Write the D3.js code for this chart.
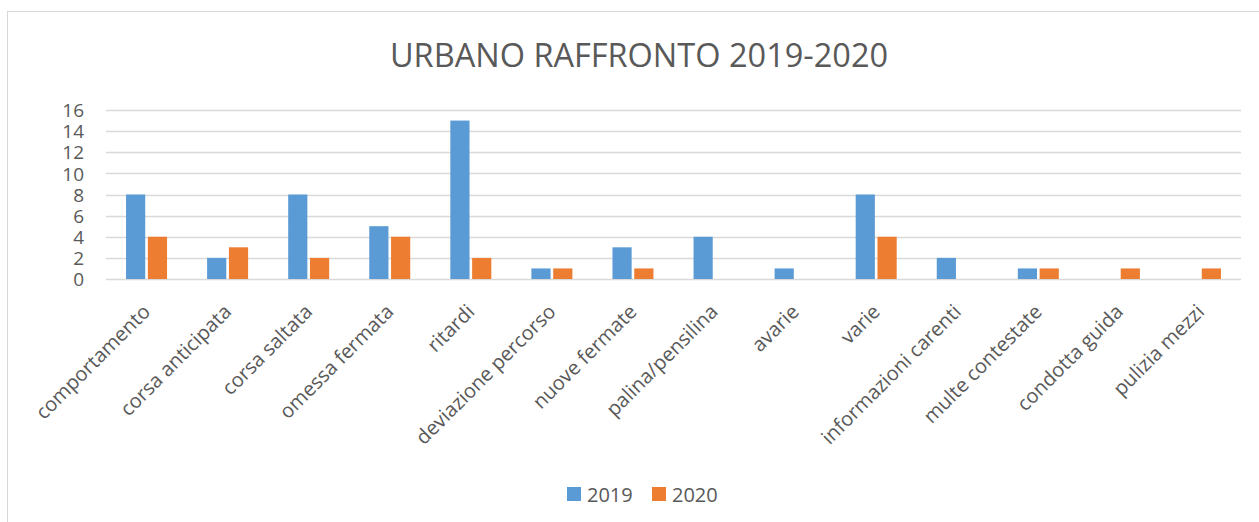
<!DOCTYPE html>
<html>
<head>
<meta charset="utf-8">
<style>
  body { margin: 0; background: #fff; }
  svg { font-family: "Open Sans", sans-serif; }
  .axis .domain, .axis .tick line { display: none; }
</style>
</head>
<body>
<svg width="1259" height="522"></svg>
<script src="https://d3js.org/d3.v7.min.js"></script>
<script>
var categories = ["comportamento", "corsa anticipata", "corsa saltata", "omessa fermata", "ritardi",
  "deviazione percorso", "nuove fermate", "palina/pensilina", "avarie", "varie",
  "informazioni carenti", "multe contestate", "condotta guida", "pulizia mezzi"];
var values2019 = [8, 2, 8, 5, 15, 1, 3, 4, 1, 8, 2, 1, 0, 0];
var values2020 = [4, 3, 2, 4, 2, 1, 1, 0, 0, 4, 0, 1, 1, 1];
var seriesNames = ["2019", "2020"];
var yTicks = [0, 2, 4, 6, 8, 10, 12, 14, 16];
var colors = ["#5B9BD5", "#ED7D31"];

var svg = d3.select("svg");

// chart frame (runs off the right and bottom of the picture)
svg.append("rect")
  .attr("x", 7.5).attr("y", 11.5)
  .attr("width", 1270).attr("height", 530)
  .attr("fill", "none").attr("stroke", "#d9d9d9");

svg.append("text")
  .attr("x", 639).attr("y", 67)
  .attr("text-anchor", "middle")
  .attr("fill", "#595959")
  .attr("font-size", "32.5px")
  .text("URBANO RAFFRONTO 2019-2020");

var margin = {left: 106, top: 110, right: 1241, bottom: 279};

var x0 = d3.scaleBand().domain(categories).range([margin.left, margin.right]);
var x1 = d3.scaleBand().domain(seriesNames).range([x0.bandwidth() / 2 - 20.5, x0.bandwidth() / 2 + 20.5]).paddingInner(0.12);
var y = d3.scaleLinear().domain([0, 16]).range([margin.bottom, margin.top]);

// gridlines
svg.append("g").selectAll("line")
  .data(yTicks)
  .enter().append("line")
  .attr("x1", margin.left).attr("x2", margin.right)
  .attr("y1", function(d) { return Math.round(y(d)) + 0.5; })
  .attr("y2", function(d) { return Math.round(y(d)) + 0.5; })
  .attr("stroke", "#d9d9d9").attr("stroke-width", 1.5);

svg.append("g")
  .attr("class", "axis")
  .attr("transform", "translate(88,0)")
  .call(d3.axisLeft(y).tickValues(yTicks).tickSize(0).tickPadding(4))
  .attr("font-family", "Open Sans").attr("font-size", 19)
  .selectAll("text").attr("fill", "#595959").attr("dy", "0.35em");

var data = categories.map(function(c, i) {
  return {cat: c, vals: [{key: "2019", value: values2019[i]}, {key: "2020", value: values2020[i]}]};
});

svg.append("g").selectAll("g")
  .data(data)
  .enter().append("g")
  .attr("transform", function(d) { return "translate(" + x0(d.cat) + ",0)"; })
  .selectAll("rect")
  .data(function(d) { return d.vals.filter(function(v) { return v.value > 0; }); })
  .enter().append("rect")
  .attr("x", function(d) { return x1(d.key); })
  .attr("y", function(d) { return y(d.value); })
  .attr("width", x1.bandwidth())
  .attr("height", function(d) { return y(0) - y(d.value); })
  .attr("fill", function(d) { return colors[seriesNames.indexOf(d.key)]; });

// rotated category labels
var xAxis = svg.append("g")
  .attr("class", "axis")
  .attr("transform", "translate(0," + margin.bottom + ")")
  .call(d3.axisBottom(x0).tickSize(0).tickPadding(0))
  .attr("font-family", "Open Sans").attr("font-size", 20);
xAxis.selectAll("text")
  .attr("fill", "#595959")
  .attr("text-anchor", "end")
  .attr("dy", "0")
  .attr("transform", "translate(5,34) rotate(-45)");

// legend
var legend = svg.append("g").attr("transform", "translate(567,487)");
seriesNames.forEach(function(s, i) {
  var gx = i * 85;
  legend.append("rect").attr("x", gx).attr("y", 0).attr("width", 14).attr("height", 14).attr("fill", colors[i]);
  legend.append("text").attr("x", gx + 20).attr("y", 14.5).attr("fill", "#595959")
    .attr("font-size", "20px").text(s);
});
</script>
</body>
</html>
